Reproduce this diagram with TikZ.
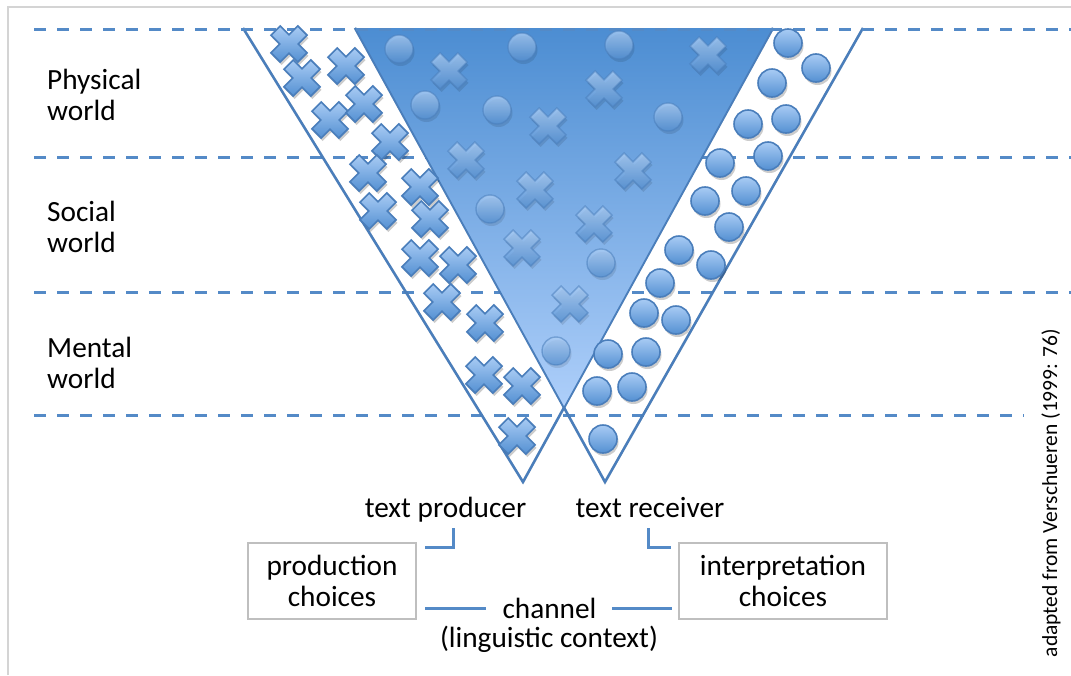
\documentclass[tikz,border=0pt]{standalone}
\usepackage{fontspec}
\setmainfont{Carlito}
\definecolor{lineblue}{RGB}{84,138,199}
\definecolor{edgeblue}{RGB}{74,126,187}
\definecolor{markhi}{RGB}{168,203,244}
\definecolor{marklo}{RGB}{84,144,210}
\definecolor{tritop}{RGB}{76,141,210}
\definecolor{tribot}{RGB}{174,207,250}
\definecolor{boxgray}{RGB}{191,191,191}
\definecolor{framegray}{RGB}{212,212,212}
\tikzset{
  level/.style={lineblue, line width=3pt, dash pattern=on 12pt off 11pt, line cap=butt},
  vside/.style={edgeblue, line width=2.5pt, line join=miter},
  lbl/.style={font=\fontsize{29.3}{31}\selectfont, inner sep=0pt},
  choicebox/.style={draw=boxgray, line width=2pt, fill=white, minimum width=168pt,
    minimum height=76pt, inner sep=0pt, align=center, font=\fontsize{29.3}{31}\selectfont},
  link/.style={lineblue, line width=3pt, line cap=butt, line join=miter},
  mshadow/.style={black, opacity=.2},
  outmark/.style={top color=markhi, bottom color=marklo, draw=edgeblue, line width=1.6pt},
  inmark/.style={top color=markhi!90!white, bottom color=marklo, draw=edgeblue, line width=1.4pt,
    fill opacity=.75, draw opacity=.55, mshadow/.style={black, opacity=.1}},
  xmark/.pic={
    \fill[mshadow, shift={(1.5,3)}, rotate=45]
      (6.5,6.5) -- (6.5,19) -- (-6.5,19) -- (-6.5,6.5) -- (-19,6.5) -- (-19,-6.5)
      -- (-6.5,-6.5) -- (-6.5,-19) -- (6.5,-19) -- (6.5,-6.5) -- (19,-6.5) -- (19,6.5) -- cycle;
    \path[pic actions, rotate=45]
      (6.5,6.5) -- (6.5,19) -- (-6.5,19) -- (-6.5,6.5) -- (-19,6.5) -- (-19,-6.5)
      -- (-6.5,-6.5) -- (-6.5,-19) -- (6.5,-19) -- (6.5,-6.5) -- (19,-6.5) -- (19,6.5) -- cycle;
  },
  omark/.pic={
    \fill[mshadow] (1.5,3) circle[radius=14pt];
    \path[pic actions] (0,0) circle[radius=14pt];
  }
}
\begin{document}
\begin{tikzpicture}[x=1pt, y=-1pt]
\useasboundingbox (0,0) rectangle (1071,675);
\fill[white] (0,0) rectangle (1071,675);

% frame
\draw[framegray, line width=1.5pt] (8,675) -- (8,7) -- (1071,7);

% level boundaries below the top one
\draw[level] (34,157) -- (1071,157);
\draw[level] (34,292) -- (1071,292);
\draw[level] (34,415) -- (1024,415);

% the two V shapes: producer (left) and receiver (right)
\coordinate (pL) at (243,28);
\coordinate (pR) at (773,28);
\coordinate (pA) at (523,482);
\coordinate (rL) at (355,28);
\coordinate (rR) at (863,28);
\coordinate (rA) at (605,482);
\coordinate (mA) at (intersection of pR--pA and rL--rA);

\draw[black, opacity=.15, line width=2.5pt, shift={(1.5,2.5)}] (pL) -- (pA) -- (pR);
\draw[black, opacity=.15, line width=2.5pt, shift={(1.5,2.5)}] (rL) -- (rA) -- (rR);
\draw[vside] (pL) -- (pA) -- (pR);
\draw[vside] (rL) -- (rA) -- (rR);

% shared area of the two worlds
\fill[black, opacity=.15, shift={(2,3)}] (rL) -- (pR) -- (mA) -- cycle;
\shade[top color=tritop, bottom color=tribot] (rL) -- (pR) -- (mA) -- cycle;
\draw[edgeblue, line width=1.2pt] (rL) -- (mA) -- (pR);

% top boundary
\draw[level] (34,29) -- (1071,29);

% crosses in the producer band
\foreach \p in {(289,44),(302,78),(346,66),(330,120),(364,104),(390,142),(368,173),
  (420,187),(378,211),(430,219),(420,258),(458,265),(442,302),(485,323),(484,375),
  (522,386),(517,436)}
  \pic[outmark] at \p {xmark};

% circles in the receiver band
\foreach \p in {(788,43),(816,68),(772,83),(748,124),(786,119),(720,163),(768,156),
  (746,191),(705,201),(729,227),(679,250),(711,265),(660,283),(644,313),(676,320),
  (608,354),(646,352),(597,391),(632,387),(603,439)}
  \pic[outmark] at \p {omark};

% mixed markers in the shared area
\foreach \p in {(449,71),(604,89),(708,55),(548,126),(466,160),(633,171),(535,190),
  (594,224),(522,248),(570,304)}
  \pic[inmark] at \p {xmark};
\foreach \p in {(399,49),(522,47),(619,45),(425,105),(497,110),(668,117),(490,209),
  (601,263),(556,351)}
  \pic[inmark] at \p {omark};

% world labels
\node[lbl, anchor=base west] (phys1) at (47,89) {Physical};
\node[lbl, anchor=base west] (phys2) at (47,120) {world};
\node[lbl, anchor=base west] (soc1) at (47,221) {Social};
\node[lbl, anchor=base west] (soc2) at (47,252) {world};
\node[lbl, anchor=base west] (men1) at (47,357) {Mental};
\node[lbl, anchor=base west] (men2) at (47,388) {world};

% participants
\node[lbl, anchor=base] (prod) at (445.5,517) {text producer};
\node[lbl, anchor=base] (recv) at (650,517) {text receiver};

% choices
\node[choicebox] (pc) at (332,581) {production\\choices};
\node[choicebox, minimum width=208pt] (ic) at (783,581) {interpretation\\choices};

% channel
\node[lbl, anchor=base] (chan) at (549.5,618) {channel};
\node[lbl, anchor=base] (ctx) at (549,647) {(linguistic context)};

% connectors
\coordinate (prodEnd) at (453,528);
\coordinate (pcEnd) at (425,547);
\coordinate (recvEnd) at (648,528);
\coordinate (icEnd) at (671,547);
\draw[link] (prodEnd) |- (pcEnd);
\draw[link] (recvEnd) |- (icEnd);
\coordinate (chL1) at (425,608);
\coordinate (chL2) at (486,608);
\coordinate (chR1) at (612,608);
\coordinate (chR2) at (672,608);
\draw[link] (chL1) -- (chL2);
\draw[link] (chR1) -- (chR2);

% source
\node[font=\fontsize{21.5}{24}\selectfont, rotate=90, anchor=base, inner sep=0pt] (src)
  at (1057,493) {adapted from Verschueren (1999: 76)};
\end{tikzpicture}
\end{document}
